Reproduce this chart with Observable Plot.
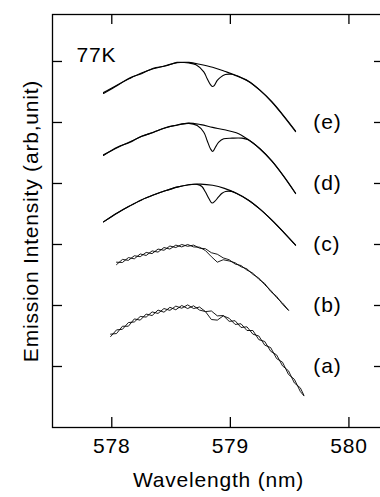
<!DOCTYPE html>
<html><head><meta charset="utf-8">
<script src="https://cdn.jsdelivr.net/npm/d3@7"></script>
<script src="https://cdn.jsdelivr.net/npm/@observablehq/plot@0.6"></script>
<style>
html,body{margin:0;padding:0;background:#fff;overflow:hidden;}
#chart svg{display:block;}
</style></head><body><div id="chart"></div>
<script>
// ---- axis / label data ----
const xTicks = [578, 579, 580];
const yTicks = [1, 2, 3, 4, 5, 6];
const panelNames = ["(a)", "(b)", "(c)", "(d)", "(e)"];
const panelLevels = [1, 2, 3, 4, 5];
const panelLabelX = 579.7;
const tempLabel = "77K";
const xLabel = "Wavelength (nm)";
const yLabel = "Emission Intensity (arb,unit)";

// ---- panel (e) ----
const eX = [577.93, 578.05, 578.15, 578.25, 578.35, 578.45, 578.55, 578.65, 578.75, 578.85, 578.95, 579.05, 579.15, 579.25, 579.35, 579.45, 579.55];
const ePlain = [5.49, 5.62, 5.72, 5.81, 5.88, 5.93, 5.98, 5.985, 5.95, 5.905, 5.84, 5.77, 5.68, 5.53, 5.34, 5.11, 4.86];
const eDipX = [577.93, 578.05, 578.15, 578.25, 578.35, 578.45, 578.55, 578.65, 578.71, 578.776, 578.804, 578.832, 578.848, 578.864, 578.888, 578.916, 578.958, 579.01, 579.05, 579.15, 579.25, 579.35, 579.45, 579.55];
const eDip = [5.475, 5.61, 5.73, 5.80, 5.89, 5.925, 5.985, 5.975, 5.945, 5.83, 5.72, 5.62, 5.59, 5.605, 5.685, 5.74, 5.785, 5.79, 5.765, 5.675, 5.525, 5.335, 5.10, 4.85];

// ---- panel (d) ----
const dX = [577.93, 578.05, 578.15, 578.25, 578.35, 578.45, 578.55, 578.65, 578.75, 578.85, 578.95, 579.05, 579.15, 579.25, 579.35, 579.45, 579.55];
const dPlain = [4.47, 4.59, 4.68, 4.77, 4.84, 4.91, 4.96, 4.99, 4.965, 4.92, 4.88, 4.83, 4.72, 4.57, 4.37, 4.12, 3.84];
const dDipX = [577.93, 578.05, 578.15, 578.25, 578.35, 578.45, 578.55, 578.65, 578.72, 578.776, 578.804, 578.832, 578.852, 578.874, 578.902, 578.944, 579.014, 579.098, 579.15, 579.25, 579.35, 579.45, 579.55];
const dDip = [4.46, 4.60, 4.67, 4.775, 4.835, 4.915, 4.955, 4.985, 4.95, 4.84, 4.705, 4.57, 4.525, 4.595, 4.677, 4.733, 4.743, 4.743, 4.715, 4.565, 4.365, 4.115, 3.835];

// ---- panel (c) ----
const cX = [577.93, 578.05, 578.15, 578.25, 578.35, 578.45, 578.55, 578.65, 578.75, 578.85, 578.95, 579.05, 579.15, 579.25, 579.35, 579.45, 579.55];
const cPlain = [3.37, 3.52, 3.63, 3.73, 3.81, 3.88, 3.94, 3.98, 3.99, 3.97, 3.92, 3.84, 3.73, 3.58, 3.40, 3.20, 2.99];
const cDipX = [577.93, 578.05, 578.15, 578.25, 578.35, 578.45, 578.55, 578.65, 578.72, 578.76, 578.79, 578.82, 578.846, 578.87, 578.90, 578.93, 578.96, 579.01, 579.05, 579.15, 579.25, 579.35, 579.45, 579.55];
const cDip = [3.37, 3.52, 3.63, 3.73, 3.81, 3.88, 3.94, 3.98, 3.985, 3.95, 3.86, 3.75, 3.68, 3.71, 3.78, 3.84, 3.87, 3.87, 3.84, 3.73, 3.58, 3.40, 3.20, 2.99];

// ---- panel (b) ----
const bX = [578.04, 578.09, 578.14, 578.19, 578.24, 578.29, 578.34, 578.39, 578.44, 578.49, 578.54, 578.59, 578.64, 578.69, 578.74, 578.79, 578.84, 578.89, 578.94, 578.99, 579.04, 579.09, 579.14, 579.19, 579.24, 579.29, 579.34, 579.39, 579.44, 579.49];
const bPlain = [2.67, 2.755, 2.74, 2.815, 2.80, 2.87, 2.85, 2.925, 2.905, 2.975, 2.95, 3.00, 2.97, 2.99, 2.94, 2.93, 2.865, 2.84, 2.78, 2.75, 2.68, 2.655, 2.58, 2.53, 2.43, 2.36, 2.23, 2.15, 2.02, 1.92];
const bDip = [2.71, 2.705, 2.785, 2.765, 2.845, 2.82, 2.895, 2.875, 2.95, 2.925, 2.99, 2.96, 3.00, 2.96, 2.955, 2.90, 2.80, 2.71, 2.75, 2.73, 2.70, 2.635, 2.60, 2.51, 2.45, 2.34, 2.25, 2.13, 2.04, 1.925];

// ---- panel (a) ----
const aX = [577.99, 578.04, 578.09, 578.14, 578.19, 578.24, 578.29, 578.34, 578.39, 578.44, 578.49, 578.54, 578.59, 578.64, 578.69, 578.74, 578.79, 578.84, 578.89, 578.94, 578.99, 579.04, 579.09, 579.14, 579.19, 579.24, 579.29, 579.34, 579.39, 579.44, 579.49, 579.54, 579.59, 579.62];
const aPlain = [1.49, 1.60, 1.61, 1.72, 1.73, 1.82, 1.81, 1.895, 1.87, 1.95, 1.92, 1.99, 1.955, 2.01, 1.95, 1.975, 1.90, 1.91, 1.83, 1.835, 1.74, 1.75, 1.64, 1.65, 1.53, 1.50, 1.35, 1.31, 1.13, 1.07, 0.87, 0.79, 0.59, 0.52];
const aDip = [1.53, 1.54, 1.66, 1.66, 1.78, 1.76, 1.86, 1.835, 1.925, 1.89, 1.97, 1.93, 2.00, 1.95, 1.995, 1.925, 1.90, 1.77, 1.76, 1.83, 1.79, 1.69, 1.70, 1.59, 1.59, 1.44, 1.41, 1.25, 1.19, 1.01, 0.93, 0.73, 0.65, 0.53];

// ---- build tables ----
const smoothCurves = [
  ["e-plain", eX, ePlain], ["e-dip", eDipX, eDip],
  ["d-plain", dX, dPlain], ["d-dip", dDipX, dDip],
  ["c-plain", cX, cPlain], ["c-dip", cDipX, cDip]
];
const noisyCurves = [
  ["b-plain", bX, bPlain], ["b-dip", bX, bDip],
  ["a-plain", aX, aPlain], ["a-dip", aX, aDip]
];
const toRows = list => list.flatMap(([id, xs, ys]) => xs.map((x, i) => ({id, x, y: ys[i]})));
const smoothRows = toRows(smoothCurves);
const noisyRows = toRows(noisyCurves);

const W = 380, H = 497;
const mL = 52, mR = -4, mT = 14, mB = 70;
const innerW = W - mL - mR, innerH = H - mT - mB;
const TICK = 10;
const FONT = "'Liberation Sans', Arial, Helvetica, sans-serif";

const chart = Plot.plot({
  width: W, height: H,
  marginLeft: mL, marginRight: mR, marginTop: mT, marginBottom: mB,
  style: {fontFamily: FONT, fontSize: "21px", color: "#000", background: "#fff", letterSpacing: "0.8px"},
  x: {domain: [577.5, 580.3], axis: null},
  y: {domain: [0, 6.77], axis: null},
  marks: [
    Plot.frame({stroke: "#000", strokeWidth: 1.3}),
    // inward ticks on all four sides
    Plot.tickX(xTicks, {x: d => d, insetTop: innerH - TICK, stroke: "#000", strokeWidth: 1.3}),
    Plot.tickX(xTicks, {x: d => d, insetBottom: innerH - TICK, stroke: "#000", strokeWidth: 1.3}),
    Plot.tickY(yTicks, {y: d => d, insetRight: innerW - TICK, stroke: "#000", strokeWidth: 1.3}),
    Plot.tickY(yTicks, {y: d => d, insetLeft: innerW - TICK, stroke: "#000", strokeWidth: 1.3}),
    // tick labels
    Plot.text(xTicks, {x: d => d, frameAnchor: "bottom", dy: 25, text: d => String(d), fill: "#000"}),
    // axis titles
    Plot.text([xLabel], {frameAnchor: "bottom", dy: 59, text: d => d, fill: "#000"}),
    Plot.text([yLabel], {frameAnchor: "left", textAnchor: "middle", dx: -21, rotate: -90, text: d => d, fill: "#000"}),
    // annotations
    Plot.text([tempLabel], {frameAnchor: "top-left", textAnchor: "start", dx: 24, dy: 33, text: d => d, fill: "#000"}),
    Plot.text(panelNames, {x: () => panelLabelX, y: (d, i) => panelLevels[i], textAnchor: "start", text: d => d, fill: "#000"}),
    // spectra
    Plot.line(smoothRows, {x: "x", y: "y", z: "id", curve: "catmull-rom", stroke: "#000", strokeWidth: 1.1}),
    Plot.line(noisyRows, {x: "x", y: "y", z: "id", curve: "linear", stroke: "#000", strokeWidth: 0.9})
  ]
});
document.getElementById("chart").appendChild(chart);
</script>
</body></html>
